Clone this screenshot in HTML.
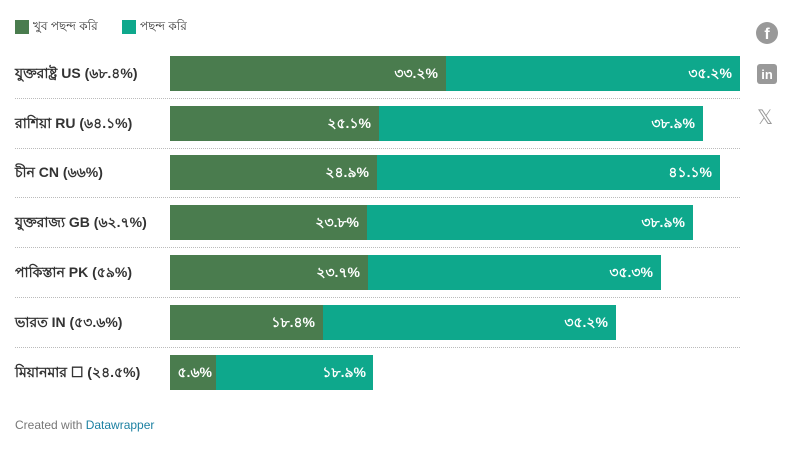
<!DOCTYPE html><html><head><meta charset="utf-8"><style>
body{margin:0;width:800px;height:450px;background:#fff;font-family:"Liberation Sans","Noto Sans CJK SC",sans-serif;position:relative;overflow:hidden}
.a{position:absolute}
.lab{left:15px;font-size:14px;color:#333;font-weight:bold;line-height:35px}
.d{background:#4a7c4e;height:35px}
.t{background:#0ea88c;height:35px}
.v{color:#fff;font-size:14px;font-weight:bold;line-height:35px;text-align:right}
.sep{left:15px;width:725px;border-top:1px dotted #bbb;height:0}
</style></head><body>
<div class="a" style="left:15px;top:20px;width:14px;height:14px;background:#4a7c4e"></div>
<div class="a" style="left:33px;top:18px;font-size:12px;color:#333">খুব পছন্দ করি</div>
<div class="a" style="left:122px;top:20px;width:14px;height:14px;background:#0ea88c"></div>
<div class="a" style="left:140px;top:18px;font-size:12px;color:#333">পছন্দ করি</div>

<div class="a lab" style="top:56px">যুক্তরাষ্ট্র US (৬৮.৪%)</div>
<div class="a d" style="left:170px;top:56px;width:276px"></div><div class="a t" style="left:446px;top:56px;width:294px"></div>
<div class="a v" style="left:170px;top:56px;width:268px">৩৩.২%</div><div class="a v" style="left:446px;top:56px;width:286px">৩৫.২%</div>
<div class="a sep" style="top:98px"></div>

<div class="a lab" style="top:106px">রাশিয়া RU (৬৪.১%)</div>
<div class="a d" style="left:170px;top:106px;width:209px"></div><div class="a t" style="left:379px;top:106px;width:324px"></div>
<div class="a v" style="left:170px;top:106px;width:201px">২৫.১%</div><div class="a v" style="left:379px;top:106px;width:316px">৩৮.৯%</div>
<div class="a sep" style="top:148px"></div>

<div class="a lab" style="top:155px">চীন CN (৬৬%)</div>
<div class="a d" style="left:170px;top:155px;width:207px"></div><div class="a t" style="left:377px;top:155px;width:343px"></div>
<div class="a v" style="left:170px;top:155px;width:199px">২৪.৯%</div><div class="a v" style="left:377px;top:155px;width:335px">৪১.১%</div>
<div class="a sep" style="top:197px"></div>

<div class="a lab" style="top:205px">যুক্তরাজ্য GB (৬২.৭%)</div>
<div class="a d" style="left:170px;top:205px;width:197px"></div><div class="a t" style="left:367px;top:205px;width:326px"></div>
<div class="a v" style="left:170px;top:205px;width:189px">২৩.৮%</div><div class="a v" style="left:367px;top:205px;width:318px">৩৮.৯%</div>
<div class="a sep" style="top:247px"></div>

<div class="a lab" style="top:255px">পাকিস্তান PK (৫৯%)</div>
<div class="a d" style="left:170px;top:255px;width:198px"></div><div class="a t" style="left:368px;top:255px;width:293px"></div>
<div class="a v" style="left:170px;top:255px;width:190px">২৩.৭%</div><div class="a v" style="left:368px;top:255px;width:285px">৩৫.৩%</div>
<div class="a sep" style="top:297px"></div>

<div class="a lab" style="top:305px">ভারত IN (৫৩.৬%)</div>
<div class="a d" style="left:170px;top:305px;width:153px"></div><div class="a t" style="left:323px;top:305px;width:293px"></div>
<div class="a v" style="left:170px;top:305px;width:145px">১৮.৪%</div><div class="a v" style="left:323px;top:305px;width:285px">৩৫.২%</div>
<div class="a sep" style="top:347px"></div>

<div class="a lab" style="top:355px">মিয়ানমার ☐ (২৪.৫%)</div>
<div class="a d" style="left:170px;top:355px;width:46px"></div><div class="a t" style="left:216px;top:355px;width:157px"></div>
<div class="a v" style="left:170px;top:355px;width:42px">৫.৬%</div><div class="a v" style="left:216px;top:355px;width:150px">১৮.৯%</div>

<div class="a" style="left:15px;top:418px;font-size:12px;color:#777">Created with <span style="color:#1d81a2">Datawrapper</span></div>

<div class="a" style="left:756px;top:22px;width:22px;height:22px;border-radius:50%;background:#999;color:#fff;font-weight:bold;font-size:16px;text-align:center;line-height:26px">f</div>
<div class="a" style="left:757px;top:64px;width:20px;height:20px;border-radius:3px;background:#999;color:#fff;font-weight:bold;font-size:13px;text-align:center;line-height:21px">in</div>
<div class="a" style="left:757px;top:105px;font-size:20px;color:#999">𝕏</div>
</body></html>
